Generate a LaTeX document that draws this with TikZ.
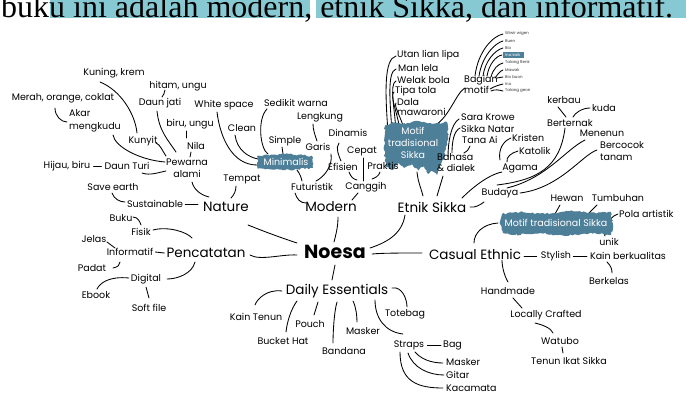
\documentclass[tikz,border=0pt]{standalone}
\usepackage{fontspec}
\setmainfont{Poppins}
\newfontfamily\serifx{Liberation Serif}
\usetikzlibrary{calc,decorations.pathmorphing}
\pgfdeclarelayer{lnl}
\pgfdeclarelayer{blobl}
\pgfsetlayers{lnl,blobl,main}
\definecolor{blobc}{HTML}{4E7F99}
\definecolor{hlc}{HTML}{86C9D3}
\newcommand\mmcurve[6]{\draw[ln] ($(#1)+(#2)$) .. controls +(#3) and +(#4) .. ($(#5)+(#6)$);}
\newcommand\mmline[4]{\draw[ln] ($(#1)+(#2)$) -- ($(#3)+(#4)$);}
\tikzset{
 t/.style={inner sep=0pt, font=\fontsize{9.5}{12}\selectfont},
 tw/.style={t, anchor=west},
 m/.style={inner sep=0pt, font=\fontsize{13.5}{15}\selectfont},
 tiny/.style={inner sep=0pt, anchor=west, font=\fontsize{4}{4}\selectfont, text=black!80},
 wt/.style={inner sep=0pt, text=white, font=\fontsize{9.5}{12}\selectfont},
 ln/.style={line width=0.85pt, line cap=round},
 blob/.style={fill=blobc, decorate, decoration={random steps,segment length=2pt,amplitude=0.9pt}},
}
\begin{document}
\begin{tikzpicture}[x=1pt,y=-1pt]
\pgfmathsetseed{7}
\path[use as bounding box] (0,0) rectangle (690,394);
\begin{pgfonlayer}{lnl}
\fill[white] (0,0) rectangle (690,394);
\end{pgfonlayer}
\clip (0,0) rectangle (690,394);
% top text strip (cut off by the top edge)
\begin{pgfonlayer}{blobl}
\fill[hlc] (50,-2) rectangle (310,17.5);
\fill[hlc] (316,-2) rectangle (686,17.5);
\end{pgfonlayer}
\node[inner sep=0pt, anchor=base west, font=\serifx\fontsize{32}{34}\selectfont] (title) at (1,17) {buku ini adalah modern, etnik Sikka, dan informatif.};

% ---------- nodes: Nature / Pencatatan ----------
\node[t] (kun) at (114,73) {Kuning, krem};
\node[t] (hit) at (178,86) {hitam, ungu};
\node[t] (mer) at (63,98) {Merah, orange, coklat};
\node[t] (djat) at (160,103) {Daun jati};
\node[t] (ws) at (224,105) {White space};
\node[t,align=left,font=\fontsize{9.5}{13}\selectfont] (akar) at (95,121) {Akar\\mengkudu};
\node[t] (biru) at (190,124) {biru, ungu};
\node[t] (clean) at (242,128) {Clean};
\node[t] (nila) at (196,146) {Nila};
\node[t] (kunyit) at (143,141) {Kunyit};
\node[t,align=center] (pew) at (187,168) {Pewarna\\alami};
\node[t] (hijau) at (67,166) {Hijau, biru};
\node[t] (dturi) at (127,166) {Daun Turi};
\node[t] (tempat) at (242,179) {Tempat};
\node[t] (save) at (113,187) {Save earth};
\node[t] (sust) at (155,204) {Sustainable};
\node[m] (nature) at (226,207) {Nature};
\node[t] (buku) at (121,218) {Buku};
\node[t] (fisik) at (141,232) {Fisik};
\node[t] (jelas) at (94,239) {Jelas};
\node[t] (info) at (130,252) {Informatif};
\node[m] (penc) at (206,253) {Pencatatan};
\node[t] (padat) at (92,268) {Padat};
\node[t] (digital) at (146,279) {Digital};
\node[t] (ebook) at (96,295) {Ebook};
\node[t] (soft) at (149,308) {Soft file};

% ---------- Modern ----------
\node[t] (sedikit) at (296,103) {Sedikit warna};
\node[t] (lengk) at (320,117) {Lengkung};
\node[t] (simple) at (285,141) {Simple};
\node[t] (dinamis) at (348,133) {Dinamis};
\node[t] (garis) at (318,147) {Garis};
\node[t] (cepat) at (362,151) {Cepat};
\node[wt] (minim) at (286,162) {Minimalis};
\node[t] (efisien) at (343,167) {Efisien};
\node[t] (praktis) at (383,166) {Praktis};
\node[t] (futur) at (312,187) {Futuristik};
\node[t] (canggih) at (366,187) {Canggih};
\node[m] (modern) at (331,207) {Modern};

% ---------- Etnik Sikka ----------
\node[tw] (utan) at (397,55) {Utan lian lipa};
\node[tw] (man) at (398,68) {Man lela};
\node[tw] (welak) at (397,80) {Welak bola};
\node[tw] (tipa) at (395,91) {Tipa tola};
\node[tw,align=left,font=\fontsize{9.5}{10.5}\selectfont] (dala) at (397,107) {Dala\\mawaroni};
\node[wt,align=center] (motif) at (413,143) {Motif\\tradisional\\Sikka};
\node[tw,align=left,font=\fontsize{9.5}{11}\selectfont] (bagian) at (464,84) {Bagian\\motif};
\node[tiny] (l1) at (505,34) {Wiwir wigen};
\node[tiny] (l2) at (505,41) {Buen};
\node[tiny] (l3) at (505,48) {Bio};
\node[tiny,text=white] (l4) at (505,55) {Ina kaik};
\node[tiny] (l5) at (505,63) {Talang Renk};
\node[tiny] (l6) at (505,70) {Mawak};
\node[tiny] (l7) at (505,77) {Bio buon};
\node[tiny] (l8) at (505,84) {Ino};
\node[tiny] (l9) at (505,91) {Talang gece};
\node[tw] (sara) at (461,117) {Sara Krowe};
\node[tw] (sikkan) at (461,129) {Sikka Natar};
\node[tw] (tana) at (462,140) {Tana Ai};
\node[tw,align=left,font=\fontsize{9.5}{11}\selectfont] (bahasa) at (437,163) {Bahasa\\\& dialek};
\node[tw] (kristen) at (512,138) {Kristen};
\node[tw] (katolik) at (519,151) {Katolik};
\node[t] (agama) at (520,168) {Agama};
\node[t] (kerbau) at (564,100) {kerbau};
\node[t] (kuda) at (604,108) {kuda};
\node[t] (bert) at (570,123) {Berternak};
\node[t] (menenun) at (602,133) {Menenun};
\node[tw,align=left] (berc) at (600,151) {Bercocok\\tanam};
\node[t] (budaya) at (500,193) {Budaya};
\node[m] (etnik) at (432,207) {Etnik Sikka};

% ---------- Casual Ethnic ----------
\node[t] (hewan) at (567,198) {Hewan};
\node[t] (tumb) at (618,198) {Tumbuhan};
\node[tw] (pola) at (619,214) {Pola artistik};
\node[wt] (motif2) at (556,223) {Motif tradisional Sikka};
\node[t] (unik) at (609,242) {unik};
\node[m] (casual) at (475,254) {Casual Ethnic};
\node[t] (stylish) at (556,256) {Stylish};
\node[t] (kain) at (628,256) {Kain berkualitas};
\node[t] (berkelas) at (609,281) {Berkelas};
\node[t] (handmade) at (508,291) {Handmade};
\node[t] (locally) at (546,315) {Locally Crafted};
\node[t] (watubo) at (560,341) {Watubo};
\node[t] (tenun) at (569,361) {Tenun Ikat Sikka};

% ---------- centre / Daily ----------
\node[inner sep=0pt, font=\fontsize{19}{20}\selectfont\bfseries] (noesa) at (335,252) {Noesa};
\node[m] (daily) at (337,291) {Daily Essentials};
\node[t] (kaint) at (256,317) {Kain Tenun};
\node[t] (pouch) at (310,324) {Pouch};
\node[t] (bucket) at (283,341) {Bucket Hat};
\node[t] (masker) at (363,331) {Masker};
\node[t] (bandana) at (344,351) {Bandana};
\node[t] (totebag) at (405,314) {Totebag};
\node[t] (straps) at (409,345) {Straps};
\node[tw] (bag) at (443,345) {Bag};
\node[tw] (masker2) at (446,362) {Masker};
\node[tw] (gitar) at (446,375) {Gitar};
\node[tw] (kaca) at (446,388) {Kacamata};

\begin{pgfonlayer}{lnl}
% ---------- connectors: Nature ----------
\mmcurve{kun}{-14,9}{20,8}{-2,-20}{kunyit}{-6,-8}
\mmcurve{hit}{-13,4}{0,3}{1,-2}{djat}{2,-6}
\mmcurve{mer}{-8,10}{0,8}{-6,0}{akar}{-28,1}
\mmcurve{akar}{18,14}{2,12}{-25,-2}{pew}{-22,-6}
\mmcurve{kunyit}{13,2}{4,1}{-3,-4}{pew}{-21,-12}
\mmcurve{djat}{-3,8}{2,20}{-8,-12}{pew}{-11,-16}
\mmline{biru}{-4,7}{nila}{-10,-8}
\mmline{nila}{-5,6}{pew}{3,-11}
\mmcurve{dturi}{15,7}{8,3}{-6,1}{pew}{-21,3}
\mmline{hijau.east}{3,0}{dturi.west}{-3,0}
\mmcurve{pew}{5,14}{2,8}{-8,-2}{nature}{-17,-10}
\mmcurve{tempat}{-6,7}{0,5}{3,-3}{nature}{5,-9}
% Pencatatan
\mmcurve{save}{-1,6}{2,6}{-5,0}{sust}{-30,-2}
\mmline{sust.east}{2,0}{nature.west}{-5,-3}
\mmcurve{buku}{12,-1}{5,0}{-1,-3}{fisik}{0,-7}
\mmcurve{fisik}{12,-2}{15,-4}{-5,-6}{penc}{-14,-15}
\mmline{jelas}{13,3}{info}{-15,-4}
\mmline{info.east}{2,0}{penc.west}{-2,0}
\mmcurve{padat}{21,0}{5,-1}{0,3}{info}{-10,10}
\mmcurve{penc}{-11,9}{-3,12}{10,0}{digital}{21,0}
\mmcurve{digital}{-17,-1}{-20,-2}{3,-6}{ebook}{1,-6}
\mmline{digital}{0,8}{soft}{0,-10}
% Modern
\mmcurve{ws}{-7,7}{3,25}{-25,0}{minim}{-29,3}
\mmcurve{clean}{-7,7}{2,15}{-10,-2}{minim}{-28,-3}
\mmcurve{sedikit}{-29,6}{-10,10}{-8,-5}{minim}{-18,-8}
\mmline{simple}{-3,6}{minim}{-3,-8}
\mmcurve{lengk}{-7,7}{0,6}{-2,-6}{garis}{-1,-6}
\mmcurve{garis}{13,7}{2,12}{8,-4}{futur}{4,-6}
\mmcurve{minim}{11,8}{3,4}{-1,-4}{futur}{-10,-6}
\mmcurve{futur}{-17,6}{2,6}{-6,0}{modern}{-25,-4}
\mmcurve{dinamis}{-9,10}{-4,5}{-2,-5}{efisien}{-2,-6}
\mmline{cepat}{1,7}{canggih}{-3,-6}
\mmcurve{efisien}{6,5}{2,5}{-4,-1}{canggih}{-9,-7}
\mmcurve{praktis}{-3,6}{-1,4}{3,-1}{canggih}{6,-8}
\mmline{canggih}{-8,6}{modern}{21,-7}
% centre
\mmcurve{modern}{7,10}{0,10}{2,-8}{noesa}{-1,-10}
\mmcurve{nature}{22,18}{20,8}{-15,-5}{noesa}{-38,-9}
\mmcurve{penc}{44,2}{10,6}{-15,-1}{noesa}{-38,3}
\mmcurve{etnik}{-27,8}{-3,20}{15,-5}{noesa}{35,-4}
\mmcurve{casual}{-53,-1}{-20,0}{10,-1}{noesa}{37,2}
\mmline{noesa}{0,13}{daily}{-5,-11}
% Daily
\mmcurve{daily}{-55,0}{-15,-2}{2,-6}{kaint}{-1,-12}
\mmcurve{daily}{-40,10}{-6,8}{1,-10}{bucket}{3,-9}
\mmline{daily}{-19,11}{pouch}{4,-9}
\mmcurve{daily}{0,11}{-3,10}{0,-10}{bandana}{-11,-8}
\mmcurve{daily}{16,10}{3,6}{0,-6}{masker}{-6,-9}
\mmcurve{daily}{38,9}{0,18}{-18,-2}{straps}{-6,-11}
\mmcurve{daily}{55,-3}{10,-2}{0,-8}{totebag}{2,-7}
\mmline{straps.east}{3,0}{bag.west}{-2,0}
\mmcurve{straps}{6,7}{6,7}{-12,0}{masker2.west}{-3,1}
\mmcurve{straps}{-1,8}{5,15}{-15,0}{gitar.west}{-2,0}
\mmcurve{straps}{-9,7}{0,30}{-25,0}{kaca.west}{-3,0}
% Etnik Sikka
\mmcurve{utan.west}{-1,1}{-12,3}{-3,-40}{motif}{-25,-11}
\mmcurve{man.west}{-2,1}{-9,3}{-2,-30}{motif}{-21,-11}
\mmcurve{welak.west}{-1,1}{-7,3}{-1,-22}{motif}{-17,-11}
\mmcurve{tipa.west}{-1,1}{-5,3}{-1,-15}{motif}{-13,-11}
\mmcurve{dala.west}{-1,-4}{-3,3}{0,-10}{motif}{-9,-11}
\mmcurve{motif}{14,-15}{20,-2}{-10,5}{bagian.west}{1,4}
\mmcurve{bagian.west}{11,-8}{3,-25}{-10,2}{l1.west}{-2,0}
\mmcurve{bagian.west}{15,-8}{3,-20}{-8,2}{l2.west}{-2,0}
\mmcurve{bagian.west}{19,-8}{2,-15}{-8,2}{l3.west}{-2,0}
\mmcurve{bagian.west}{23,-8}{2,-12}{-6,1}{l4.west}{-3,0}
\mmcurve{bagian.west}{27,-7}{2,-8}{-5,1}{l5.west}{-2,0}
\mmcurve{bagian.west}{31,-6}{3,-4}{-3,1}{l6.west}{-2,0}
\mmline{bagian.west}{33,-6}{l7.west}{-2,0}
\mmcurve{bagian.west}{26,5}{5,-3}{-4,1}{l8.west}{-2,0}
\mmcurve{bagian.west}{27,7}{4,-2}{-4,-1}{l9.west}{-2,0}
\mmcurve{sara.west}{-2,2}{-8,5}{0,-15}{bahasa.west}{11,-6}
\mmcurve{sikkan.west}{-1,-1}{-6,3}{0,-12}{bahasa.west}{15,-10}
\mmcurve{tana.west}{8,6}{-2,4}{3,-1}{bahasa.west}{27,-10}
\mmcurve{motif}{4,29}{1,10}{-2,-8}{etnik}{-9,-11}
\mmline{bahasa.west}{6,13}{etnik}{5,-11}
\mmcurve{agama}{-18,4}{-15,3}{8,-8}{etnik}{30,-9}
\mmcurve{budaya}{-16,9}{-4,3}{5,1}{etnik}{38,0}
\mmcurve{kristen.west}{-1,0}{-8,3}{-2,-10}{agama}{-20,-8}
\mmcurve{katolik.west}{-1,0}{-7,2}{-1,-5}{agama}{-13,-6}
\mmcurve{bert}{-5,5}{-5,40}{40,-5}{budaya}{-3,-8}
\mmcurve{menenun}{-17,7}{-20,10}{40,-10}{budaya}{7,-5}
\mmcurve{berc.west}{-3,-1}{-15,5}{40,-5}{budaya}{20,0}
\mmline{kerbau}{-6,7}{bert}{-4,-6}
\mmcurve{kuda}{-14,0}{-8,0}{2,-4}{bert}{3,-6}
% Casual
\mmcurve{motif2}{-58,0}{-15,1}{0,-10}{casual}{-1,-11}
\mmline{hewan}{-7,7}{motif2}{-1,-9}
\mmline{tumb}{-21,7}{motif2}{32,-9}
\mmcurve{pola.west}{-1,0}{-6,2}{1,-5}{motif2}{52,2}
\mmline{unik}{-4,-6}{motif2}{46,5}
\mmline{casual.east}{3,2}{stylish.west}{-4,0}
\mmline{stylish.east}{2,0}{kain.west}{-3,0}
\mmcurve{kain}{-21,6}{4,4}{0,-4}{berkelas}{3,-8}
\mmcurve{casual}{27,6}{0,8}{-3,-5}{handmade}{0,-9}
\mmline{handmade}{5,7}{locally}{-24,-7}
\mmcurve{locally}{-11,8}{8,2}{-2,-5}{watubo}{-7,-8}
\mmline{watubo}{2,6}{tenun}{-6,-8}
\end{pgfonlayer}

% ---------- blobs (over line ends, under text) ----------
\begin{pgfonlayer}{blobl}
\fill[blob] (257,156) -- (285,154) -- (312,156) -- (313,168) -- (285,170) -- (258,169) -- cycle;
\fill[blob] (385,126) -- (392,122) -- (405,124) -- (418,121) -- (432,124) -- (447,122) -- (448,135) -- (446,148) -- (444,158) -- (440,166) -- (437,175) -- (432,170) -- (428,174) -- (424,166) -- (418,170) -- (412,164) -- (404,168) -- (398,163) -- (392,170) -- (386,166) -- (384,150) -- cycle;
\fill[blob] (502,214) -- (520,212) -- (545,214) -- (570,211) -- (595,213) -- (611,212) -- (613,225) -- (611,235) -- (590,233) -- (565,236) -- (540,233) -- (515,235) -- (503,233) -- (500,224) -- cycle;
\fill[blobc] (503,52) rectangle (524,58);
\end{pgfonlayer}
\end{tikzpicture}
\end{document}
